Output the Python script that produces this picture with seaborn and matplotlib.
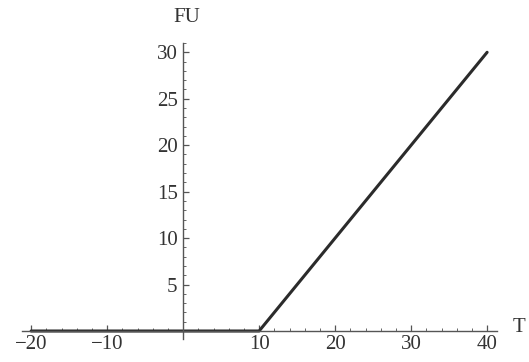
import matplotlib
matplotlib.use("Agg")
import matplotlib.pyplot as plt
import seaborn as sns
import pandas as pd
from matplotlib.ticker import MultipleLocator, FixedLocator

T = [-20, 10, 40]
FU = [0, 0, 30]
x_ticks = [-20, -10, 10, 20, 30, 40]
y_ticks = [5, 10, 15, 20, 25, 30]

sns.set_style("white")
plt.rcParams['font.family'] = ['Liberation Serif', 'DejaVu Serif']

fig = plt.figure(figsize=(5.29, 3.62), dpi=100)
ax = fig.add_axes([22/529, 1-339/362, (497-22)/529, (339-43)/362])

df = pd.DataFrame({"T": T, "FU": FU})
sns.lineplot(data=df, x="T", y="FU", ax=ax, color="#2b2b2b", linewidth=2.2)

ax.set_xlim(-21.2, 41.3)
ax.set_ylim(-0.86, 31.0)

ax.spines['left'].set_position(('data', 0))
ax.spines['bottom'].set_position(('data', 0))
ax.spines['right'].set_visible(False)
ax.spines['top'].set_visible(False)
for s in ('left', 'bottom'):
    ax.spines[s].set_color('#555555')
    ax.spines[s].set_linewidth(1.0)

ax.xaxis.set_major_locator(FixedLocator(x_ticks))
ax.xaxis.set_minor_locator(MultipleLocator(2))
ax.yaxis.set_major_locator(FixedLocator(y_ticks))
ax.yaxis.set_minor_locator(MultipleLocator(1))
ax.set_xticklabels([f"\u2212{abs(v)}" if v < 0 else str(v) for v in x_ticks])
ax.set_yticklabels([str(v) for v in y_ticks])

ax.tick_params(axis='both', which='both', bottom=True, left=True, top=False, right=False)
ax.tick_params(axis='both', which='major', direction='in', length=4, width=0.9,
               color='#555555', labelsize=15, labelcolor='#333333')
ax.tick_params(axis='both', which='minor', direction='in', length=2, width=0.7,
               color='#666666')
ax.tick_params(axis='x', which='major', pad=3)
ax.tick_params(axis='y', which='major', pad=4)

ax.set_xlabel("")
ax.set_ylabel("")
fig.text(187/529, 1-18/362, "FU", ha='center', va='center', fontsize=15, color='#333333')
fig.text(519/529, 1-328/362, "T", ha='center', va='center', fontsize=15, color='#333333')

fig.savefig("out.png", dpi=100)
